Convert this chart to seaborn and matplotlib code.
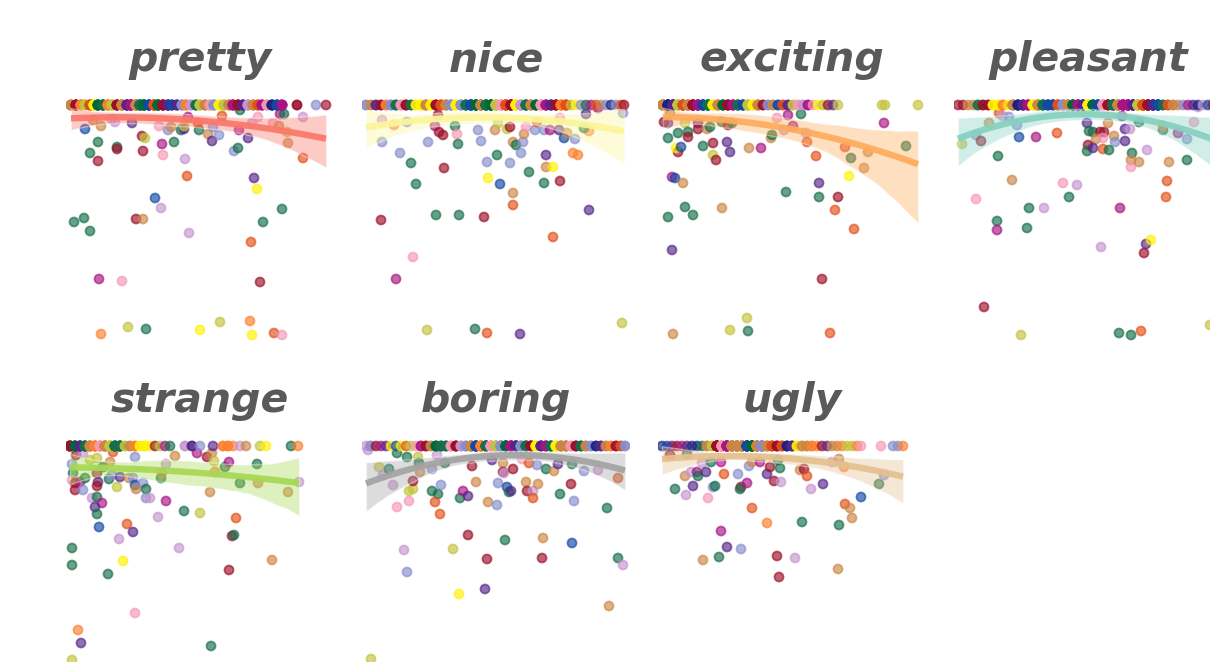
import matplotlib
matplotlib.use("Agg")
import matplotlib.pyplot as plt
from matplotlib.collections import PolyCollection
import numpy as np
import pandas as pd
import seaborn as sns

sns.set_theme(style="white")
plt.rcParams["font.family"] = ["DejaVu Sans"]

words = ["pretty", "nice", "exciting", "pleasant", "strange", "boring", "ugly"]

group_colors = {
    "G": "#156f4a", "R": "#9c0f28", "P": "#55268a", "O": "#e24f18",
    "Y": "#fff200", "V": "#c3c33d", "T": "#cc8644", "L": "#c695d0",
    "W": "#868ecd", "K": "#f697b2", "M": "#a91383", "B": "#1348a5",
    "A": "#fd802e", "N": "#1a237e", "D": "#006837",
}
line_colors = {
    "pretty": "#f9786a", "nice": "#fbf59a", "exciting": "#fdab5b",
    "pleasant": "#86d0c0", "strange": "#a6d854", "boring": "#a3a3a3",
    "ugly": "#e4c08f",
}

# ---- pretty ----
pretty_x = [13,29,21,26,18,26,45,45,40,43, 60,70,73,71,87,90,91,102,96,99,
            109,112,113,112,116,115,127,126,136,140, 141,147,150,168,167,176,162,166,180,186,
            201,207,208,212,215,216,231,231,182,185, 83,89,210,191,2,12,18,64,71,117,
            179,27,50,188,29,56,74,128,148,178, 180,202,210]
pretty_y = [24,21,15,37,48,56,42,44,14,17, 18,31,33,46,21,39,50,37,25,22,
            25,24,54,21,12,71,25,18,29,36, 22,30,11,5,25,33,46,43,18,12,
            18,21,9,9,27,38,12,53,73,84, 93,103,104,117,117,113,126,114,114,128,
            137,174,176,177,229,222,224,225,217,216, 230,228,230]
pretty_g = "BTTGGRGRLLPRVRKMKGWTGPLVMOGOTPWWOGMPWGLKKTMGVTLOPYBLGGGGGRTLOMKRAVGYVAYOK"
pretty_top_x = [-1,4,9,13,18,22,26,31,36,40,45, 50,55,59,64,68,72,77,82,86,91,96,
                100,105,110,114,119,124,128,133,138,142,147, 152,157,161,166,171,176,181,186,190,195,
                200,205,210,225,244,254]
pretty_top_g = "TRAVOYDGAVRTPMTGDBODRPBPWALGVTKWYVTMRPLTOMKNBMRWR"
pretty_top_n = [6,6,6,6,7,7,7,7,7,6,6, 8,8,8,8,8,8,8,8,8,7,7,
                4,4,4,4,4,4,4,4,4,4,4, 5,5,5,5,5,5,4,4,4,4,
                5,5,5,2,1,1]

# ---- nice ----
nice_x = [14,14,26,32,39,43,48,60,67,71, 75,76,70,87,89,90,110,113,119,127,
          129,130,139,142,142,145,148,153,155,156, 158,120,132,145,145,161,167,169,176,178,
          178,185,176,182,191,192,192,196,199,205, 210,207,218,221,216,230,255,221,185,13,
          68,91,116,45,28,59,107,119,152,254]
nice_y = [37,15,20,48,17,58,79,37,21,27, 30,63,10,21,29,39,25,36,57,25,
          50,18,24,22,58,37,40,48,37,29, 22,73,79,88,100,67,25,17,25,50,
          62,62,78,25,25,76,13,33,28,48, 50,34,9,26,23,3,8,105,132,115,
          110,110,112,152,174,225,224,228,229,218]
nice_g = "WLAWWGGWMRRRRGKGWWWTGVVRWTGWWTKYBTOGWOWPTYGMPRKBTAAWPAGMWPORGGRKMVGOPV"
nice_top_x = [-2,3,8,13,18,23,28,33,38,43,48, 53,58,63,68,73,78,83,88,93,98,
              103,108,113,118,123,128,133,138,143,148, 153,158,163,168,173,178,183,188,193,198,
              203,208,213,218,223,228,233,238,243,248,253,256]
nice_top_g = "WTPRAWGKRGYYTYROTWYWGBDTGDVKORYLGTDKMPRAOVYWGMOTWNWOR"
nice_top_n = [2,2,2,2,2,3,3,3,3,2,2, 4,4,4,4,4,5,5,5,4,5,
              9,9,9,9,9,9,9,9,9,9, 6,6,5,5,5,5,5,5,5,5,
              1,1,1,1,1,1,1,1,1,1,1,1]

# ---- exciting ----
exciting_x = [0,4,6,4,14,14,12,17,21,24, 24,34,34,39,43,46,49,49,52,58,
              63,64,66,68,85,97,107,108,113,120, 124,129,137,142,143,152,155,155,174,171,
              181,187,185,200,204,190,220,242,8,11, 19,122,58,21,29,4,8,158,83,84,
              66,9,166]
exciting_y = [17,18,8,33,28,47,43,42,18,27, 32,18,24,41,24,22,38,50,55,17,
              37,20,47,18,43,43,33,30,13,25, 10,21,9,28,37,51,78,92,92,105,
              42,53,71,63,47,124,18,41,72,73, 78,87,103,102,110,112,145,174,213,226,
              225,229,228]
exciting_g = "RPTGGRYBVGRPRGTGRVRGPRPGTMTGKLMMGLOOPGROOGYTTOMGMBTGTGGGPRVGVTO"
exciting_top_x = [-1,4,9,14,19,24,29,34,39,44, 49,54,59,64,69,74,79,84,89,94,
                  99,104,109,114,119,124,129,134,139,144, 149,154,159,164,169,174,218,221,254]
exciting_top_g = "TNPVOTRMBGYTDRMGBVYTRWTBOPVKLMKYVRPVVVV"
exciting_top_n = [9,9,9,9,9,9,9,9,9,9, 5,5,5,5,5,5,5,5,5,5,
                  2,2,2,2,2,2,2,2,2,2, 1,1,1,1,1,1,1,1,1]

# ---- pleasant ----
pleasant_x = [2,16,21,29,38,39,43,49,57,59, 76,52,16,37,37,69,84,67,97,103,
              117,109,127,129,133,140,144,136,143,154, 155,148,128,127,133,143,149,160,165,170,
              165,162,172,171,171,179,187,179,203,203, 207,206,209,218,227,227,234,238,141,186,
              191,184,24,61,159,171,181,250]
pleasant_y = [39,30,36,18,51,8,11,12,20,32, 32,75,94,116,125,103,103,123,28,78,
              80,92,18,26,27,27,27,34,33,31, 37,18,40,46,43,44,45,103,24,24,
              36,11,48,55,62,57,45,17,25,21, 76,92,57,28,34,55,17,2,142,139,
              135,148,202,230,228,230,226,220]
pleasant_g = "VWRTGOLWWBMTKGMGLGOKLGPGGRRTKTWTRGPOGMPLPMGTKTLGGAOOTMWGKLLPYRRVGGOV"
pleasant_top_x = [-2,3,8,13,18,23,28,33,38,43,48, 53,58,63,68,73,78,83,88,93,98,
                  103,108,113,118,123,128,133,138,143,148, 153,158,163,168,173,178,183,188,193,198,
                  203,208,213,218,223,228,233,238,243,248,253]
pleasant_top_g = "RRTTGRRYYAYTNPMYTGBBOWTDMPYDBKRGTMMPVORPBGOTTWMPNLBR"
pleasant_top_n = [1,1,1,1,2,2,2,2,2,2,1, 5,5,5,5,5,6,6,6,6,6,
                  7,7,7,7,7,7,7,7,8,7, 10,10,10,10,10,10,10,10,10,10,
                  2,2,2,1,1,1,1,1,1,1,1]

# ---- strange ----
strange_x = [0,1,0,3,3,8,11,13,4,11, 18,25,25,26,25,31,20,25,30,23,
             25,27,37,40,38,41,45,48,57,61, 63,64,71,74,74,78,63,89,90,94,
             94,103,86,112,128,125,135,140,142,143, 138,153,157,164,160,162,168,186,185,216,
             227,47,55,61,0,0,36,51,107,157, 200,63,6,9,139,0]
strange_y = [18,27,34,37,44,36,44,32,9,7, 14,12,27,36,40,21,52,51,57,61,
             68,81,33,29,16,6,41,31,32,32, 39,43,37,43,52,52,11,32,27,18,
             55,10,71,65,67,7,11,7,15,26, 46,21,16,72,90,89,37,37,18,46,
             36,93,78,86,102,119,128,115,102,124, 114,167,184,197,200,214]
strange_g = "WGKRRMWGRLVVRPRGLGMPGBGWTOVPTWBTWGWLWGTLMTLGVMRTVATGMORGGTGTLLOPGGGYLRTKAPGV"
strange_top_x = [-2,3,8,13,18,23,28,33,38,43,48, 53,58,63,68,73,78,83,88,93,98,
                 113,120,128,141, 151,156,161,168,174,188,194, 219,226]
strange_top_g = "RDPGTAKTVGGVTAYYYRVMGLPWPAAALTVYGA"
strange_top_n = [6,6,6,6,6,7,7,7,7,6,6, 2,2,2,2,2,1,1,1,1,1,
                 2,2,1,1, 2,2,1,1,1,1,1, 1,1]

# ---- boring ----
boring_x = [0,2,11,15,21,25,29,29,39,41, 45,45,41,50,51,52,64,69,64,70,
            67,72,73,77,92,95,100,104,108,120, 129,124,130,135,135,136,139,141,143,145,
            154,161,158,159,165,165,169,170,178,186, 190,192,203,204,206,216,230,239,250,100,
            137,175,204,36,85,119,174,250,255,39, 91,117,241,3]
boring_y = [4,0,21,29,23,39,61,7,11,45, 43,35,55,11,17,26,23,9,45,48,
            56,68,39,17,52,45,50,20,36,56, 59,14,37,17,26,27,41,46,45,23,
            13,17,36,45,45,52,19,38,23,25, 18,48,38,18,55,25,24,62,32,89,
            94,92,97,104,103,113,112,112,119,126, 148,143,160,213]
boring_g = "LWVLGLKGGVVRKVGTWLGGOOWGGMPRTTWPWTRLBGPRKOTRLOWTGTPGRGWWLGORGTBLVRRGLWYPTV"
boring_top_x = [-2,3,8,13,18,23,28,33,38,43,48, 53,58,63,68,73,78,83,88,93,98,
                103,108,113,118,123,128,133,138,143,148, 153,158,163,168,173,178,183,188,193,198,
                203,208,213,218,223,228,233,238,243,248,253,257]
boring_top_g = "LWRMPYBYOVKMRTDGGKRLWTBAGKVWDMPWGRYPMGYTTKRGTWNPTAROW"
boring_top_n = [1,1,1,1,1,1,1,1,1,1,1, 2,2,2,3,3,3,3,4,3,3,
                8,8,8,8,8,8,8,8,8,8, 5,5,5,5,5,5,5,5,5,5,
                3,3,3,3,2,2,2,2,2,2,2,2]

# ---- ugly ----
ugly_x = [6,11,21,22,23,27,29,33,34,38, 42,44,47,49,51,57,60,74,77,76,
          83,85,88,88,96,103,106,110,116,117, 114,103,136,140,143,138,147,159,168,175,
          180,181,186,188,175,197,215,220,57,63, 77,55,39,113,131,174,115]
ugly_y = [9,43,30,49,8,26,40,26,30,17, 26,52,16,41,40,16,28,28,41,43,
          37,20,16,62,16,28,21,35,22,36, 14,77,24,23,30,76,43,38,16,13,
          21,58,62,72,79,51,38,29,85,101, 103,111,114,110,112,123,131]
ugly_g = "RGTLGLPMGLPKGWGMOWRGMWTOMPRRGLGATROGLPLTAOTTGBGWMPWGTRLTR"
ugly_top_x = [-2,3,8,13,18,23,28,33,38,43,48, 53,58,63,68,73,78,83,88,93,98,
              103,108,113,118,123,128,133,138,143,148, 153,158,163,168,173,178,183,188,193,197,
              217,229,234,239]
ugly_top_g = "NBPRMPNNGTVRKMTTTBDTWTORONPYTTAARPTTAVVAKKWWA"
ugly_top_n = [1,1,1,1,1,1,1,1,1,2,2, 11,11,11,11,11,11,11,11,11,11,
              4,4,3,3,3,3,2,2,2,2, 1,1,1,1,1,1,1,1,1,1,
              1,1,1,1]

panels = {
    "pretty": (pretty_x, pretty_y, pretty_g, pretty_top_x, pretty_top_g, pretty_top_n),
    "nice": (nice_x, nice_y, nice_g, nice_top_x, nice_top_g, nice_top_n),
    "exciting": (exciting_x, exciting_y, exciting_g, exciting_top_x, exciting_top_g, exciting_top_n),
    "pleasant": (pleasant_x, pleasant_y, pleasant_g, pleasant_top_x, pleasant_top_g, pleasant_top_n),
    "strange": (strange_x, strange_y, strange_g, strange_top_x, strange_top_g, strange_top_n),
    "boring": (boring_x, boring_y, boring_g, boring_top_x, boring_top_g, boring_top_n),
    "ugly": (ugly_x, ugly_y, ugly_g, ugly_top_x, ugly_top_g, ugly_top_n),
}

frames = []
for word in words:
    x, y, g, tx, tg, tn = panels[word]
    spread = pd.DataFrame({"word": word, "pos": x, "gap": y, "group": list(g)})
    ceiling = pd.DataFrame({
        "word": word,
        "pos": np.repeat(tx, tn),
        "gap": 0,
        "group": np.repeat(list(tg), tn),
    })
    frames.append(pd.concat([spread, ceiling], ignore_index=True))
df = pd.concat(frames, ignore_index=True)
df["pos"] = df["pos"].astype(float)
df["gap"] = df["gap"].astype(float)


def draw_panel(data, **kws):
    ax = plt.gca()
    word = data["word"].iloc[0]
    sns.scatterplot(data=data, x="pos", y="gap", hue="group", palette=group_colors,
                    s=42, alpha=0.65, edgecolor="face", linewidth=1.3,
                    legend=False, ax=ax)
    sns.regplot(data=data, x="pos", y="gap", order=2, scatter=False,
                color=line_colors[word], seed=3,
                line_kws=dict(lw=4.6, alpha=0.92, solid_capstyle="butt"), ax=ax)


grid = sns.FacetGrid(df, col="word", col_order=words, col_wrap=4,
                     height=3.31, aspect=12.1 / 4 / 3.31, sharex=True, sharey=True)
grid.map_dataframe(draw_panel)

W, H = 1210.0, 662.0
for i, (ax, word) in enumerate(zip(grid.axes.flat, words)):
    r, c = divmod(i, 4)
    ax.set_xlim(-6, 262)
    ax.set_ylim(236, -6)
    ax.axis("off")
    for coll in ax.collections:
        if isinstance(coll, PolyCollection):
            coll.set_alpha(0.38)
    ax.set_title(word, fontsize=29.5, fontweight="bold", fontstyle="italic",
                 color="#595959", pad=20)
    left = 66 + 296 * c
    top = 99 + 341 * r
    ax.set_position([left / W, 1 - (top + 242) / H, 268 / W, 242 / H])

grid.figure.set_size_inches(W / 100, H / 100)
grid.figure.savefig("out.png", dpi=100)
